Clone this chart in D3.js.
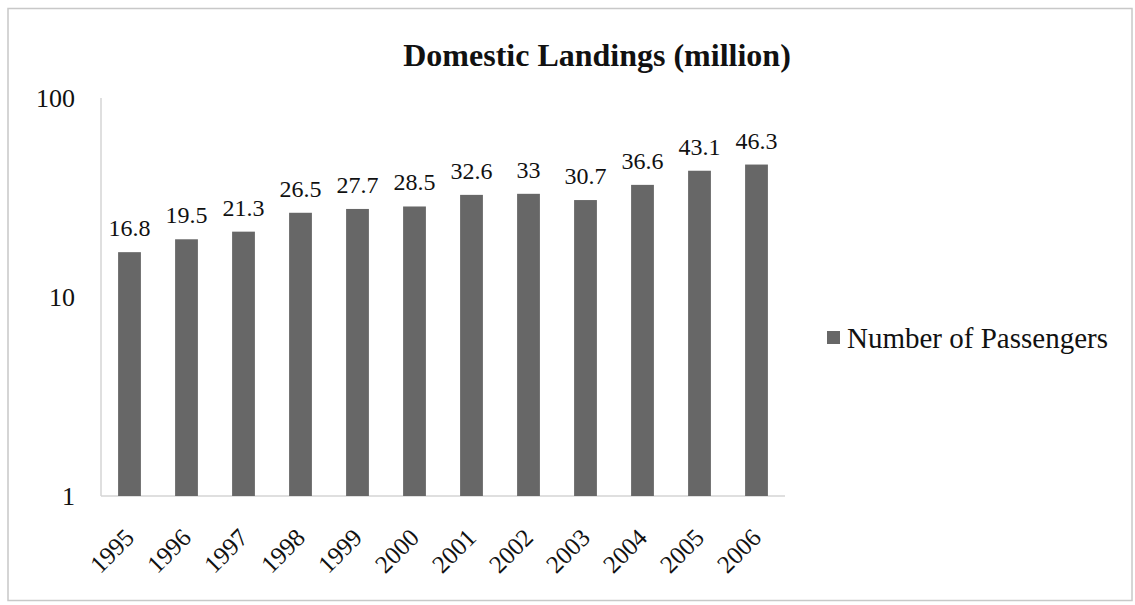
<!DOCTYPE html>
<html><head><meta charset="utf-8">
<script src="https://cdn.jsdelivr.net/npm/d3@7"></script>
<style>body{margin:0;background:#fff}svg{display:block}text{font-family:"Liberation Serif","Times New Roman",serif;fill:#111}</style>
</head><body><svg id="c" width="1135" height="605"></svg>
<script>
const categories = ["1995","1996","1997","1998","1999","2000","2001","2002","2003","2004","2005","2006"];
const passengers = [16.8,19.5,21.3,26.5,27.7,28.5,32.6,33,30.7,36.6,43.1,46.3];
const valueLabels = ["16.8","19.5","21.3","26.5","27.7","28.5","32.6","33","30.7","36.6","43.1","46.3"];
const yTicks = [1,10,100];
const seriesName = "Number of Passengers";
const title = "Domestic Landings (million)";

const svg = d3.select("#c");
svg.append("rect").attr("x",8).attr("y",8.5).attr("width",1124).attr("height",592)
  .attr("fill","#fff").attr("stroke","#c8c8c8").attr("stroke-width",1.5);

const pL=101, pR=785, pT=98, pB=496;
const x = d3.scaleBand().domain(categories).range([pL,pR]).paddingInner(0.6).paddingOuter(0.3);
const y = d3.scaleLog().domain([1,100]).range([pB,pT]);

svg.append("text").attr("x",597).attr("y",66).attr("text-anchor","middle")
  .attr("font-weight","bold").attr("font-size",32).text(title);

svg.append("line").attr("x1",pL).attr("x2",pL).attr("y1",pT).attr("y2",pB).attr("stroke","#d4d4d4").attr("stroke-width",1.5);
svg.append("line").attr("x1",pL).attr("x2",pR).attr("y1",pB).attr("y2",pB).attr("stroke","#d4d4d4").attr("stroke-width",1.5);

svg.selectAll(".yt").data(yTicks).join("text").attr("class","yt")
  .attr("x",75).attr("y",d=>y(d)).attr("dy","0.35em").attr("text-anchor","end")
  .attr("font-size",26).text(d=>d);

svg.selectAll(".bar").data(passengers).join("rect").attr("class","bar")
  .attr("x",(d,i)=>x(categories[i])).attr("width",x.bandwidth())
  .attr("y",d=>y(d)).attr("height",d=>pB-y(d)).attr("fill","#676767");

svg.selectAll(".vl").data(passengers).join("text").attr("class","vl")
  .attr("x",(d,i)=>x(categories[i])+x.bandwidth()/2).attr("y",d=>y(d)-16)
  .attr("text-anchor","middle").attr("font-size",24).text((d,i)=>valueLabels[i]);

svg.selectAll(".xl").data(categories).join("text").attr("class","xl")
  .attr("transform",d=>`translate(${x(d)+x.bandwidth()/2},${pB+37}) rotate(-45)`)
  .attr("text-anchor","end").attr("dy","0.35em").attr("font-size",25).text(d=>d);

svg.append("rect").attr("x",827).attr("y",331).attr("width",13).attr("height",13).attr("fill","#676767");
svg.append("text").attr("x",847).attr("y",338).attr("dy","0.35em").attr("font-size",29).text(seriesName);
</script></body></html>
